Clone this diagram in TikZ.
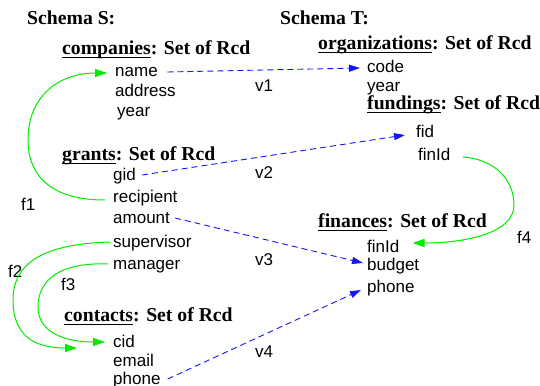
\documentclass[tikz,border=0pt]{standalone}
\usepackage{fontspec}
\setmainfont{Liberation Serif}
\setsansfont{Liberation Sans}
\usetikzlibrary{arrows.meta}
\definecolor{fgreen}{RGB}{0,235,0}
\definecolor{vblue}{RGB}{20,20,255}
\newcommand\hul[1]{\setbox0\hbox{#1}\rlap{\rule[-3.4pt]{\wd0}{0.9pt}}\box0}
\begin{document}
\begin{tikzpicture}[x=1pt,y=-1pt,
  fld/.style={anchor=base west,inner sep=0pt,font=\sffamily\fontsize{17}{17}\selectfont},
  lbl/.style={anchor=base west,inner sep=0pt,font=\sffamily\fontsize{17}{17}\selectfont},
  hdr/.style={anchor=base west,inner sep=0pt,font=\rmfamily\bfseries\fontsize{19.7}{19.7}\selectfont},
  fk/.style={draw=fgreen,line width=1pt,-{Triangle[length=12pt,width=8pt]}},
  vmap/.style={draw=vblue,line width=0.9pt,dash pattern=on 6pt off 4pt,-{Triangle[length=11pt,width=7pt]}}]
\useasboundingbox (0,0) rectangle (540,385);
% headings
\node[hdr] (schS) at (27,25) {Schema S:};
\node[hdr] (schT) at (280,25) {Schema T:};
\node[hdr] (hcomp) at (62,55) {\hul{companies}: Set of Rcd};
\node[hdr] (hgrant) at (62,160) {\hul{grants}: Set of Rcd};
\node[hdr] (hcont) at (64,321) {\hul{contacts}: Set of Rcd};
\node[hdr] (horg) at (318,50) {\hul{organizations}: Set of Rcd};
\node[hdr] (hfund) at (367,110) {\hul{fundings}: Set of Rcd};
\node[hdr] (hfin) at (318,227) {\hul{finances}: Set of Rcd};
% source fields
\node[fld] (name) at (115,77) {name};
\node[fld] (address) at (115,96) {address};
\node[fld] (yearS) at (117,117) {year};
\node[fld] (gid) at (113,180) {gid};
\node[fld] (recipient) at (113,202) {recipient};
\node[fld] (amount) at (113,223) {amount};
\node[fld] (supervisor) at (113,247) {supervisor};
\node[fld] (manager) at (113,269) {manager};
\node[fld] (cid) at (113,347) {cid};
\node[fld] (email) at (113,366) {email};
\node[fld] (phoneS) at (113,384) {phone};
% target fields
\node[fld] (code) at (367,73) {code};
\node[fld] (yearT) at (367,92) {year};
\node[fld] (fid) at (416,137) {fid};
\node[fld] (finIdT) at (418,160) {finId};
\node[fld] (finIdF) at (367,252) {finId};
\node[fld] (budget) at (367,270) {budget};
\node[fld] (phoneF) at (367,292) {phone};
% labels
\node[lbl] (v1) at (255,92) {v1};
\node[lbl] (v2) at (255,178) {v2};
\node[lbl] (v3) at (255,265) {v3};
\node[lbl] (v4) at (255,357) {v4};
\node[lbl] (f1) at (21,210) {f1};
\node[lbl] (f2) at (8,277) {f2};
\node[lbl] (f3) at (61,290) {f3};
\node[lbl] (f4) at (517,243) {f4};
% value mappings
\draw[vmap] ([xshift=9.5pt,yshift=5pt]name.base east) -- ([xshift=-7pt,yshift=5pt]code.base west);
\draw[vmap] ([xshift=6pt,yshift=5pt]gid.base east) -- ([xshift=-11pt,yshift=2pt]fid.base west);
\draw[vmap] ([xshift=5pt,yshift=5pt]amount.base east) -- ([xshift=-4pt,yshift=7pt]budget.base west);
\draw[vmap] ([xshift=7pt,yshift=5pt]phoneS.base east) -- ([xshift=-6pt,yshift=2pt]phoneF.base west);
% foreign keys
\draw[fk] ([xshift=-8pt,yshift=2pt]recipient.base west) .. controls (50,200) and (28,175) .. (28,140)
  .. controls (28,95) and (60,73) .. ([xshift=-8pt,yshift=4pt]name.base west);
\draw[fk] ([xshift=-3pt,yshift=5pt]supervisor.base west) .. controls (40,244) and (13,265) .. (13,300)
  .. controls (13,340) and (40,348) .. ([xshift=-36pt,yshift=-1pt]cid.base west);
\draw[fk] ([xshift=-5pt,yshift=5pt]manager.base west) .. controls (60,262) and (38,280) .. (38,307)
  .. controls (38,335) and (70,342) .. ([xshift=-8pt,yshift=5pt]cid.base west);
\draw[fk] ([xshift=12pt,yshift=3pt]finIdT.base east) .. controls (495,159) and (514,180) .. (514,205)
  .. controls (514,235) and (460,243) .. ([xshift=13pt,yshift=9pt]finIdF.base east);
\end{tikzpicture}
\end{document}
